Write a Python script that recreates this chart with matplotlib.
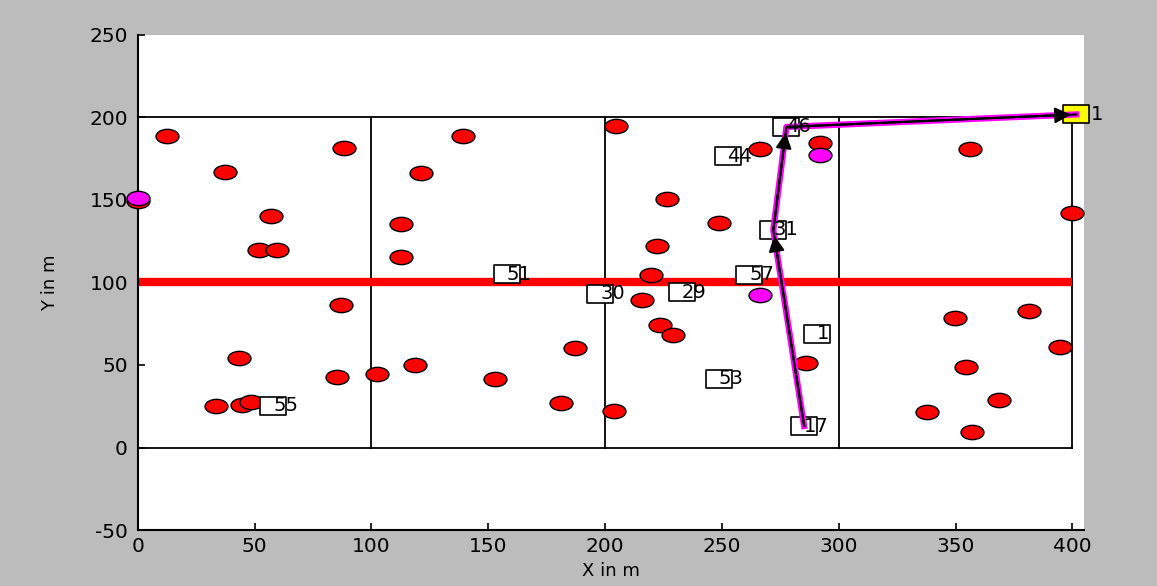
import numpy as np
import matplotlib
matplotlib.use("Agg")
from matplotlib import pyplot as plt
from matplotlib.path import Path
from matplotlib.transforms import Affine2D

plt.rcParams["axes.unicode_minus"] = False

# 普通节点（红色）
red_x = [12.4, 37.3, 88.4, 56.9, 52.1, 59.8, 86.8, 43.2, 33.4, 44.5, 48.3, 85.1,
         102.2, 118.5, 112.8, 112.8, 121.2, 139.3, 152.7, 181.0, 187.0, 204.0,
         204.7, 216.0, 219.5, 222.3, 226.3, 223.3, 228.9, 248.7, 266.5, 291.8,
         286.2, 349.7, 356.0, 354.4, 357.2, 337.6, 368.5, 381.3, 394.6, 400.0, 0.0]
red_y = [188.8, 167.0, 181.7, 140.5, 119.7, 119.7, 86.4, 54.2, 25.2, 25.8, 27.6, 42.7,
         44.5, 50.0, 135.3, 115.3, 166.2, 188.8, 41.5, 27.0, 60.3, 22.0,
         195.0, 89.4, 104.5, 122.1, 150.4, 74.2, 68.2, 136.2, 180.9, 184.5,
         51.2, 78.6, 180.9, 48.6, 9.2, 21.7, 28.8, 82.9, 61.1, 142.0, 149.5]

# 紫色节点
mag_x = [0.0, 291.8, 266.5]
mag_y = [151.2, 177.3, 92.4]

# 方框节点（编号）
box_id = ["46", "44", "31", "57", "51", "30", "29", "1", "53", "17", "55"]
box_x = [277.6, 252.4, 272.0, 261.8, 158.0, 198.0, 232.8, 290.8, 248.7, 285.2, 58.0]
box_y = [194.2, 176.4, 131.8, 104.7, 105.0, 93.2, 94.2, 68.8, 41.7, 13.0, 25.2]

# 汇聚节点
sink_id = "1"
sink_x, sink_y = 401.7, 201.8

# 路由路径
route = ["17", "31", "46"]

# 网格划分
grid_x = [0, 100, 200, 300, 400]
grid_y = [0, 200]
mid_y = 100

ell = Path.unit_circle().transformed(Affine2D().scale(1.6, 1.0))
rect = Path([(-1.5, -1), (1.5, -1), (1.5, 1), (-1.5, 1), (-1.5, -1)],
            [Path.MOVETO, Path.LINETO, Path.LINETO, Path.LINETO, Path.CLOSEPOLY])

fig = plt.figure(figsize=(11.57, 5.86), dpi=100, facecolor="#bcbcbc")
ax = fig.add_axes([0.119, 0.0955, 0.818, 0.845])
ax.set_facecolor("white")

for gx in grid_x:
    ax.plot([gx, gx], [grid_y[0], grid_y[1]], color="k", lw=1.3, zorder=1)
for gy in grid_y:
    ax.plot([grid_x[0], grid_x[-1]], [gy, gy], color="k", lw=1.3, zorder=1)
ax.plot([grid_x[0], grid_x[-1]], [mid_y, mid_y], color="red", lw=6, zorder=2,
        solid_capstyle="butt")

ax.plot(red_x, red_y, ls="none", marker=ell, ms=16.5, mfc="red", mec="k",
        mew=1.0, zorder=3, clip_on=False)
ax.plot(mag_x, mag_y, ls="none", marker=ell, ms=16.5, mfc="magenta", mec="k",
        mew=1.0, zorder=3, clip_on=False)

ax.plot(box_x, box_y, ls="none", marker=rect, ms=19, mfc="white", mec="k",
        mew=1.2, zorder=4)
ax.plot([sink_x], [sink_y], ls="none", marker=rect, ms=19, mfc="yellow",
        mec="k", mew=1.2, zorder=4, clip_on=False)
for t, x, y in zip(box_id, box_x, box_y):
    ax.text(x, y, t, fontsize=14, ha="left", va="center", zorder=6)
ax.text(sink_x + 6, sink_y, sink_id, fontsize=14, ha="left", va="center",
        zorder=6, clip_on=False)

px = [box_x[box_id.index(r)] for r in route] + [sink_x]
py = [box_y[box_id.index(r)] for r in route] + [sink_y]
ax.plot(px, py, color="magenta", lw=4.5, zorder=5, clip_on=False)
ax.plot(px, py, color="k", lw=1.5, zorder=5, clip_on=False)
for i in range(len(px) - 1):
    ax.annotate("", xy=(px[i + 1], py[i + 1]), xytext=(px[i], py[i]),
                arrowprops=dict(arrowstyle="-|>", color="k", lw=1.5,
                                mutation_scale=24, shrinkA=0, shrinkB=4),
                zorder=6, annotation_clip=False)

ax.set_xlim(0, 405)
ax.set_ylim(-50, 250)
ax.set_xticks(np.arange(0, 401, 50))
ax.set_yticks(np.arange(-50, 251, 50))
ax.spines["top"].set_visible(False)
ax.spines["right"].set_visible(False)
ax.spines["left"].set_linewidth(1.5)
ax.spines["bottom"].set_linewidth(1.5)
ax.tick_params(direction="in", length=5, width=1.2, labelsize=14.5)
ax.tick_params(axis="y", pad=7)
ax.tick_params(axis="x", pad=5)
ax.set_xlabel("X in m", fontsize=13, labelpad=4)
ax.set_ylabel("Y in m", fontsize=13, labelpad=22)

fig.savefig("out.png", dpi=100, facecolor=fig.get_facecolor())
